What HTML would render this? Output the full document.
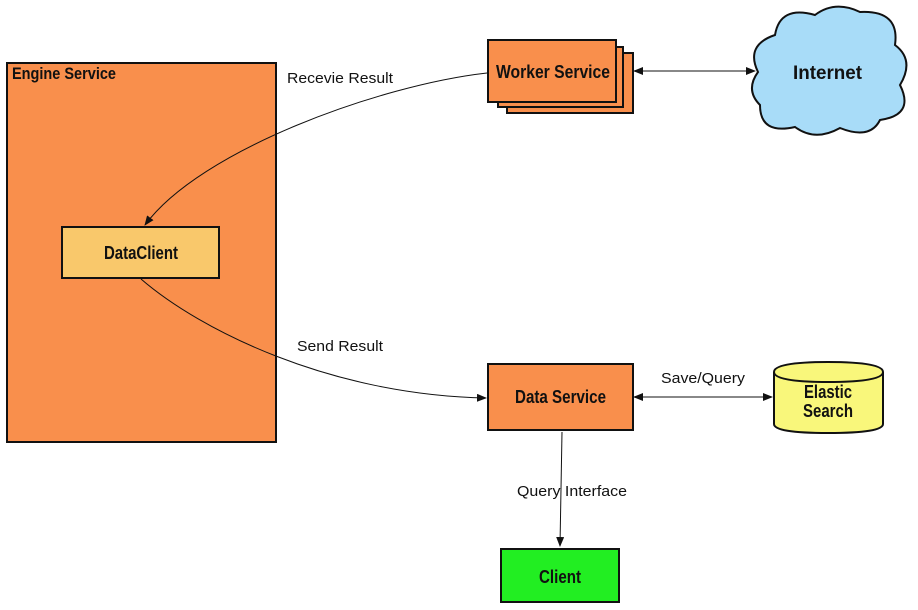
<!DOCTYPE html>
<html><head><meta charset="utf-8"><style>
html,body{margin:0;padding:0;background:#fff;}
svg{display:block;}
.h{font-family:"Liberation Sans",sans-serif;font-weight:bold;fill:#111;}
.l{font-family:"Liberation Sans",sans-serif;font-size:15px;fill:#111;}
</style></head><body>
<svg width="918" height="610" viewBox="0 0 918 610" xmlns="http://www.w3.org/2000/svg">
<defs>
<marker id="a" markerWidth="10" markerHeight="8" refX="9" refY="4" orient="auto" markerUnits="userSpaceOnUse"><path d="M0,0 L10,4 L0,8 Z" fill="#111"/></marker>
<marker id="b" markerWidth="10" markerHeight="8" refX="1" refY="4" orient="auto" markerUnits="userSpaceOnUse"><path d="M10,0 L0,4 L10,8 Z" fill="#111"/></marker>
</defs>
<rect x="7" y="63" width="269" height="379" fill="#f98f4c" stroke="#111" stroke-width="2"/>
<text x="12" y="79" class="h" font-size="17" textLength="104" lengthAdjust="spacingAndGlyphs">Engine Service</text>
<rect x="62" y="227" width="157" height="51" fill="#f9c86b" stroke="#111" stroke-width="2"/>
<text x="104" y="259" class="h" font-size="18" textLength="74" lengthAdjust="spacingAndGlyphs">DataClient</text>
<rect x="507" y="53" width="126" height="60" fill="#f98f4c" stroke="#111" stroke-width="2"/>
<rect x="498" y="47" width="125" height="60" fill="#f98f4c" stroke="#111" stroke-width="2"/>
<rect x="488" y="40" width="128" height="62" fill="#f98f4c" stroke="#111" stroke-width="2"/>
<text x="496" y="78" class="h" font-size="18" textLength="114" lengthAdjust="spacingAndGlyphs">Worker Service</text>
<path d="M758,72 Q745,45 775,35 Q780,5 815,15 Q835,0 860,12 Q900,10 895,45 Q915,60 900,85 Q915,115 880,120 Q870,140 840,128 Q815,142 795,127 Q760,135 760,105 Q745,90 758,72 Z" fill="#a8dcf8" stroke="#111" stroke-width="2"/>
<text x="793" y="79" class="h" font-size="19" textLength="69" lengthAdjust="spacingAndGlyphs">Internet</text>
<line x1="634" y1="71" x2="755" y2="71" stroke="#111" marker-start="url(#b)" marker-end="url(#a)"/>
<rect x="488" y="364" width="145" height="66" fill="#f98f4c" stroke="#111" stroke-width="2"/>
<text x="515" y="403" class="h" font-size="18" textLength="91" lengthAdjust="spacingAndGlyphs">Data Service</text>
<path d="M774,372 Q774,362 828,362 Q883,362 883,372 L883,424 Q883,433 828,433 Q774,433 774,424 Z" fill="#f9f77b" stroke="#111" stroke-width="2"/>
<path d="M774,372 Q774,382 828,382 Q883,382 883,372" fill="none" stroke="#111" stroke-width="2"/>
<text x="804" y="398" class="h" font-size="18" textLength="48" lengthAdjust="spacingAndGlyphs">Elastic</text>
<text x="803" y="417" class="h" font-size="18" textLength="50" lengthAdjust="spacingAndGlyphs">Search</text>
<line x1="634" y1="397" x2="772" y2="397" stroke="#111" marker-start="url(#b)" marker-end="url(#a)"/>
<text x="661" y="383" class="l" textLength="84" lengthAdjust="spacingAndGlyphs">Save/Query</text>
<rect x="501" y="549" width="118" height="53" fill="#22ee22" stroke="#111" stroke-width="2"/>
<text x="539" y="583" class="h" font-size="18" textLength="42" lengthAdjust="spacingAndGlyphs">Client</text>
<line x1="562" y1="432" x2="560" y2="546" stroke="#111" marker-end="url(#a)"/>
<text x="517" y="496" class="l" textLength="110" lengthAdjust="spacingAndGlyphs">Query Interface</text>
<path d="M487,73 C380,85 200,150 145,225" fill="none" stroke="#111" marker-end="url(#a)"/>
<text x="287" y="83" class="l" textLength="106" lengthAdjust="spacingAndGlyphs">Recevie Result</text>
<path d="M141,279 C200,330 330,395 486,398" fill="none" stroke="#111" marker-end="url(#a)"/>
<text x="297" y="351" class="l" textLength="86" lengthAdjust="spacingAndGlyphs">Send Result</text>
</svg>
</body></html>
